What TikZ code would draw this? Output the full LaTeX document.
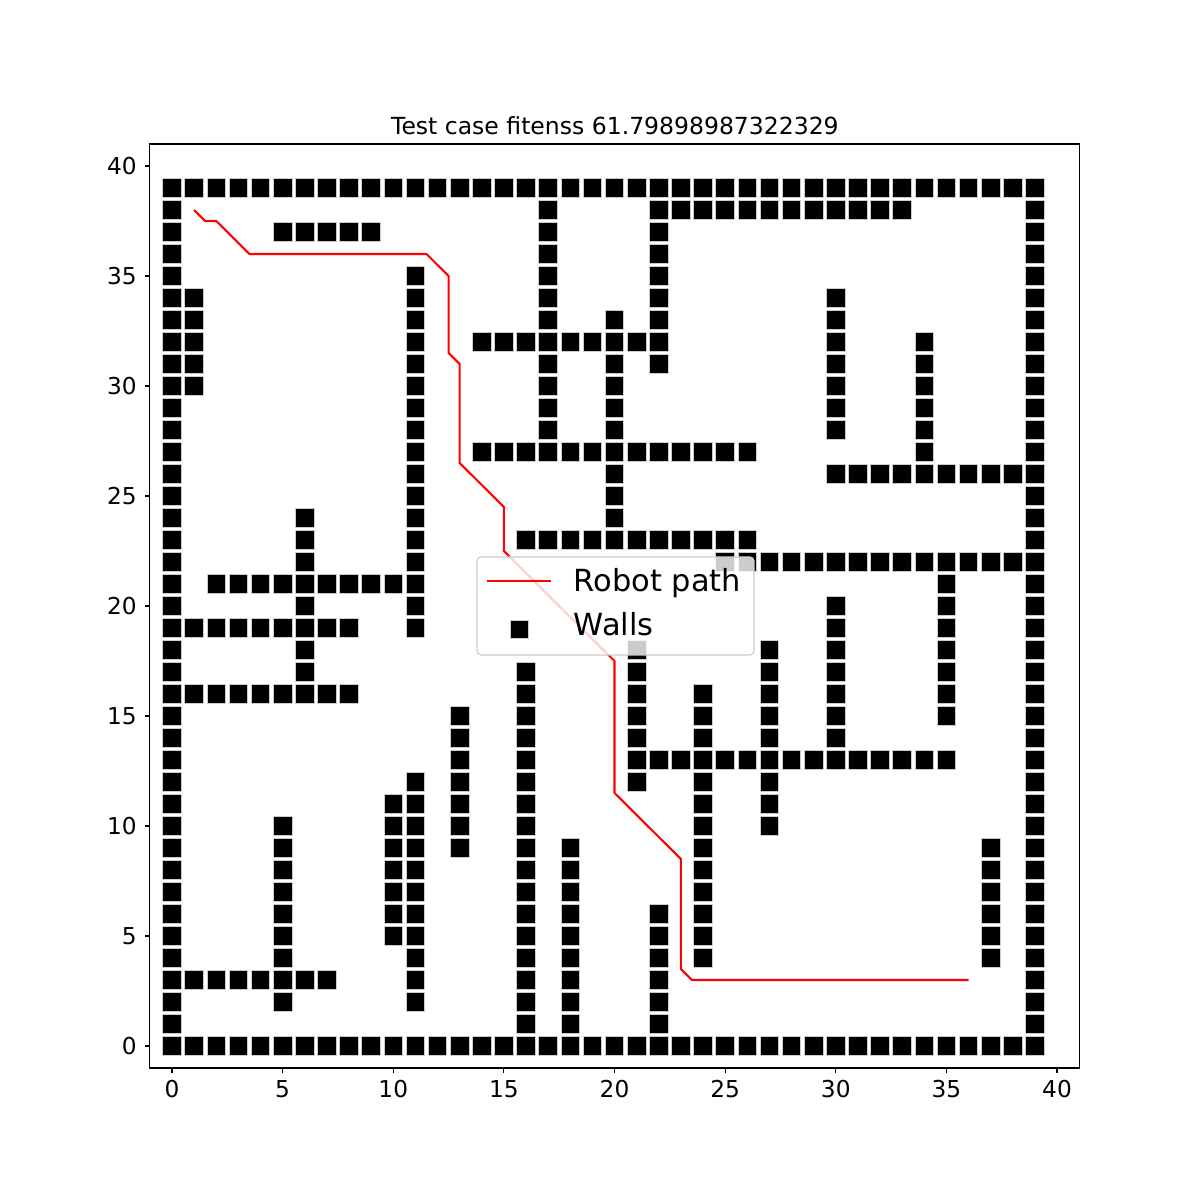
\documentclass[tikz,border=0pt]{standalone}
\usepackage{fontspec}
\setmainfont{DejaVu Sans}
\usepackage{tikz}
\usetikzlibrary{
	calc,
	positioning
}
\definecolor{PathRed}{RGB}{255,0,0}
\definecolor{EdgeGray}{RGB}{204,204,204}
\newcommand{\wallat}[2]{\draw[wall] (#1,#2) +(-0.42,-0.42) rectangle +(0.42,0.42);}

\begin{document}
\begin{tikzpicture}[x=0.561975cm, y=0.5588cm,
	wall/.style={fill=black, draw=EdgeGray, line width=0.6pt},
	robotpath/.style={PathRed, line width=1.5pt, line join=miter},
	axisline/.style={black, line width=0.8pt},
	ticklab/.style={inner sep=0pt, font=\fontsize{16.8}{20}\selectfont},
	legendbox/.style={draw=EdgeGray, line width=0.8pt, fill=white, fill opacity=0.8, rounded corners=0.1cm},
	legtext/.style={inner sep=0pt, anchor=base west, font=\fontsize{22}{26}\selectfont}]
	\useasboundingbox (-7.774,-7) rectangle (46.463,47.545);
	% 路径
	\draw[robotpath] (1,38) -- (1.5,37.5) -- (2,37.5) -- (3.5,36) -- (11.5,36) -- (12.5,35)
		-- (12.5,31.5) -- (13,31) -- (13,26.5) -- (15,24.5) -- (15,22.5) -- (20,17.5)
		-- (20,11.5) -- (23,8.5) -- (23,3.5) -- (23.5,3) -- (36,3);
	% 外墙
	\foreach \x in {0,...,39} {\wallat{\x}{0} \wallat{\x}{39}}
	\foreach \y in {1,...,38} {\wallat{0}{\y} \wallat{39}{\y}}
	% 横墙
	\foreach \y/\a/\b in {38/22/33, 37/5/9, 32/14/22, 27/14/26, 26/30/38, 23/16/26,
		22/25/38, 21/2/11, 19/1/8, 16/1/8, 13/21/35, 3/1/7}
		\foreach \x in {\a,...,\b} {\wallat{\x}{\y}}
	% 竖墙
	\foreach \x/\a/\b in {1/30/34, 17/28/38, 22/31/37, 20/24/33, 11/19/35, 11/2/12,
		30/28/34, 30/14/20, 34/27/32, 6/16/24, 35/15/21, 21/12/18, 27/10/18, 24/4/16,
		16/1/17, 13/9/15, 10/5/11, 5/2/10, 18/1/9, 22/1/6, 37/4/9}
		\foreach \y in {\a,...,\b} {\wallat{\x}{\y}}
	% 坐标轴
	\draw[axisline] (-1,-1) rectangle (41,41);
	\foreach \v in {0,5,...,40} {
		\draw[axisline] (\v,-1) -- ++(0,-3.5pt);
		\node[ticklab, anchor=north] (xt\v) at (\v,-1.545) {\v};
		\draw[axisline] (-1,\v) -- ++(-3.5pt,0);
		\node[ticklab, anchor=east] (yt\v) at (-1.582,\v) {\v};
	}
	\node[ticklab, anchor=base, font=\fontsize{17}{20}\selectfont] (title) at (20.02,41.44) {Test case fitenss 61.79898987322329};
	% 图例
	\draw[legendbox] (13.785,17.773) rectangle (26.305,22.227);
	\draw[robotpath] (14.237,21.136) -- (17.13,21.136);
	\wallat{15.70}{18.94}
	\node[legtext] (lpath) at (18.15,20.65) {Robot path};
	\node[legtext] (lwall) at (18.15,18.64) {Walls};
\end{tikzpicture}
\end{document}
